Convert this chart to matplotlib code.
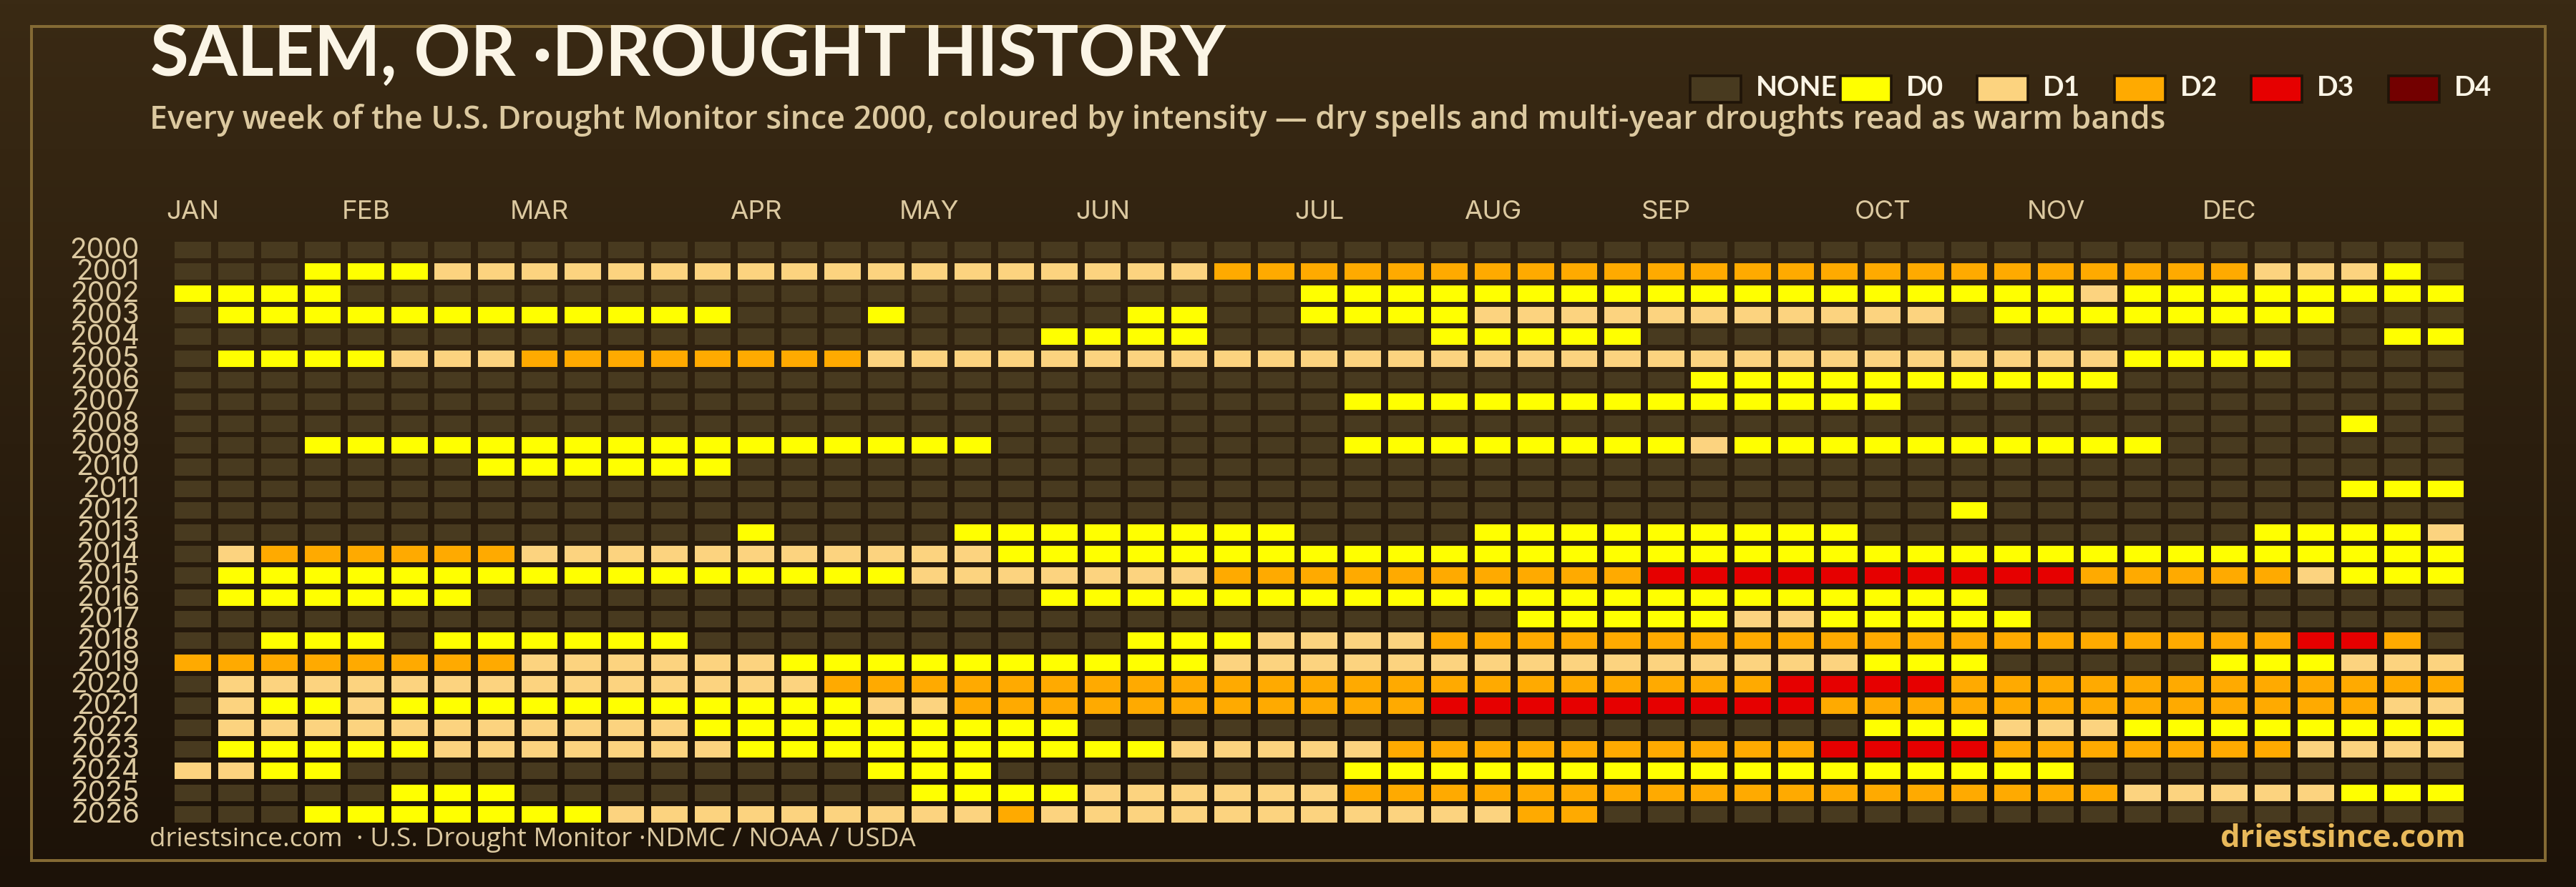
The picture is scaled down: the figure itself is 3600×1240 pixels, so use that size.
import numpy as np
import matplotlib
matplotlib.use('Agg')
import matplotlib.pyplot as plt
from matplotlib.colors import to_rgb
from matplotlib.patches import Rectangle
from matplotlib.transforms import ScaledTranslation

years = list(range(2000, 2027))

# One digit per week, grouped only to keep the rows readable
# 0 none, 1 D0, 2 D1, 3 D2, 4 D3, 5 D4
week_levels = [
    '000000000000 00000000000000 000000000000000 000000000000',
    '000111222222 22222222222233 333333333333333 333333322210',
    '111100000000 00000000000000 111111111111111 111211111111',
    '011111111111 10001000001100 111122222222222 011111111000',
    '000000000000 00000000111100 000111110000000 000000000011',
    '011112223333 33332222222222 222222222222222 222211110000',
    '000000000000 00000000000000 000000000111111 111100000000',
    '000000000000 00000000000000 011111111111110 000000000000',
    '000000000000 00000000000000 000000000000000 000000000100',
    '000111111111 11111110000000 011111111211111 111110000000',
    '000000011111 10000000000000 000000000000000 000000000000',
    '000000000000 00000000000000 000000000000000 000000000111',
    '000000000000 00000000000000 000000000000000 100000000000',
    '000000000000 01000011111111 000011111111100 000000011112',
    '023333332222 22222221111111 111111111111111 111111111111',
    '011111111111 11111222222233 333333334444444 444333332111',
    '011111100000 00000000111111 111111111111111 100000000000',
    '000000000000 00000000000000 000001111122111 110000000000',
    '001110111111 00000000001112 222333333333333 333333334430',
    '333333332222 22111111111122 222222222222211 100000111222',
    '022222222222 22233333333333 333333333334444 333333333333',
    '021121111111 11112233333333 333444444444333 333333333322',
    '022222222222 11111111100000 000000000000011 122211111111',
    '011111222222 21111111111222 223333333333444 433333332222',
    '221100000000 00001110000000 011111111111111 111000000000',
    '000001110000 00000111122222 233333333333333 333322222111',
    '000111111122 22222223222222 222223300000000 000000000000',
]

month_labels = ['JAN', 'FEB', 'MAR', 'APR', 'MAY', 'JUN', 'JUL', 'AUG', 'SEP', 'OCT', 'NOV', 'DEC']
month_weeks = [0, 4, 8, 13, 17, 21, 26, 30, 34, 39, 43, 47]

level_labels = ['NONE', 'D0', 'D1', 'D2', 'D3', 'D4']
level_colors = ['#483a1f', '#ffff00', '#fcd37f', '#ffaa00', '#e60000', '#730000']

FONT = 'Lato'
BODY = 'Open Sans'
TICKS = 'Inter'
W, H = 3600, 1240
TEXT = '#dcc9a0'
WHITE = '#fbf5e6'

levels = np.array([[int(c) for c in row.replace(' ', '')] for row in week_levels])

fig = plt.figure(figsize=(W / 100, H / 100), dpi=100)

# backdrop, drawn in pixel coordinates
bg = fig.add_axes([0, 0, 1, 1])
bg.set_xlim(0, W)
bg.set_ylim(H, 0)
bg.axis('off')
top, bottom = np.array(to_rgb('#3a2a14')), np.array(to_rgb('#1c1208'))
shade = np.linspace(0, 1, 256)[:, None, None]
bg.imshow(top * (1 - shade) + bottom * shade, extent=(0, W, H, 0), aspect='auto', zorder=0)
bg.set_xlim(0, W)
bg.set_ylim(H, 0)

bg.add_patch(Rectangle((44, 37), 3513, 1166, fill=False, edgecolor='#846a34', linewidth=2.88, zorder=1))

bg.text(210, 106, 'SALEM, OR ·DROUGHT HISTORY', color=WHITE, fontsize=70.6, fontweight='bold',
        family=FONT, va='baseline', zorder=3)
bg.text(209, 180, 'Every week of the U.S. Drought Monitor since 2000, coloured by intensity — '
        'dry spells and multi-year droughts read as warm bands',
        color=TEXT, fontsize=32.2, fontweight='semibold', family=BODY, va='baseline', zorder=3)
bg.text(209, 1183, 'driestsince.com  · U.S. Drought Monitor ·NDMC / NOAA / USDA',
        color=TEXT, fontsize=26.6, family=BODY, va='baseline', zorder=3)
bg.text(3446, 1184, 'driestsince.com', color='#e8b95a', fontsize=31.3, fontweight='bold',
        family=BODY, ha='right', va='baseline', zorder=3)

# legend
swatch_left = [2360, 2570, 2761, 2953, 3144, 3336]
for x, label, color in zip(swatch_left, level_labels, level_colors):
    bg.add_patch(Rectangle((x + 2, 106), 71, 37, facecolor=color, edgecolor='#1f1408',
                           linewidth=2.6, zorder=2))
    bg.text(x + 94, 134, label, color=WHITE, fontsize=28, fontweight='bold', family=FONT,
            va='baseline', zorder=3)

# heatmap axes: weeks across, years down
x0, x1 = 239.2, 3448.4
y0, y1 = 334.3, 1153.8
ax = fig.add_axes([x0 / W, 1 - y1 / H, (x1 - x0) / W, (y1 - y0) / H], zorder=2)
ax.patch.set_alpha(0)
for side in ax.spines.values():
    side.set_visible(False)

year_values = np.array(years)
for level, color in enumerate(level_colors):
    rows, cols = np.nonzero(levels == level)
    ax.bar(cols, 0.76, bottom=year_values[rows] - 0.38, width=0.836, color=color, linewidth=0)

ax.set_xlim(-0.5, 52.5)
ax.set_ylim(2026.5, 1999.5)

ax.xaxis.tick_top()
ax.set_xticks(month_weeks, month_labels, family=TICKS, fontsize=26.5, color=TEXT)
ax.set_yticks(years, [str(y) for y in years], family=TICKS, fontsize=28, color=TEXT)
ax.tick_params(axis='x', length=0, pad=15)
ax.tick_params(axis='y', length=0, pad=32)
lift = ScaledTranslation(0, 3 / 100, fig.dpi_scale_trans)
for label in ax.get_yticklabels():
    label.set_transform(label.get_transform() + lift)

fig.savefig('out.png', dpi=100)
